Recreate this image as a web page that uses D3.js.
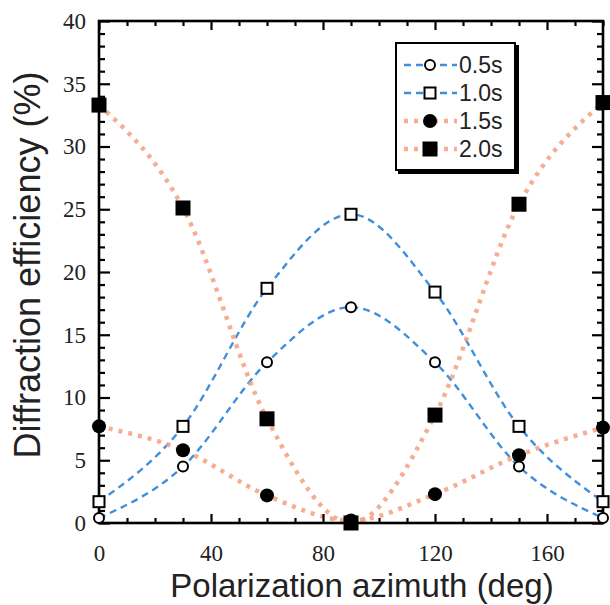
<!DOCTYPE html>
<html>
<head>
<meta charset="utf-8">
<script src="https://cdn.jsdelivr.net/npm/d3@7"></script>
<style>
  body { margin: 0; background: #fff; }
</style>
</head>
<body>
<svg id="mainsvg" width="610" height="605"></svg>
<script>
// values
const angles = [0, 30, 60, 90, 120, 150, 180];
const eff05 = [0.4, 4.5, 12.8, 17.2, 12.8, 4.5, 0.4];
const eff10 = [1.7, 7.7, 18.7, 24.6, 18.4, 7.7, 1.7];
const eff15 = [7.7, 5.8, 2.2, 0.2, 2.3, 5.4, 7.6];
const eff20 = [33.3, 25.1, 8.3, 0.0, 8.6, 25.4, 33.5];
const seriesNames = ["0.5s", "1.0s", "1.5s", "2.0s"];
const xTickLabels = [0, 40, 80, 120, 160];
const yTickLabels = [0, 5, 10, 15, 20, 25, 30, 35, 40];

const blue = "#3f8fdc";
const orange = "#f5a486";

const svg = d3.select("#mainsvg");
const x = d3.scaleLinear().domain([0, 180]).range([99, 603]);
const y = d3.scaleLinear().domain([0, 40]).range([523, 21]);

const series = [
  {name: seriesNames[0], vals: eff05, color: blue, marker: "circle", filled: false},
  {name: seriesNames[1], vals: eff10, color: blue, marker: "square", filled: false},
  {name: seriesNames[2], vals: eff15, color: orange, marker: "circle", filled: true},
  {name: seriesNames[3], vals: eff20, color: orange, marker: "square", filled: true}
];

svg.append("defs").append("clipPath").attr("id", "plotclip")
  .append("rect")
  .attr("x", x(0)).attr("y", y(40))
  .attr("width", x(180) - x(0)).attr("height", y(0) - y(40));

const line = d3.line()
  .x((d, i) => x(angles[i]))
  .y(d => y(d))
  .curve(d3.curveMonotoneX);

function styleLine(sel, s) {
  if (s.color === blue) {
    sel.style("stroke", blue).style("stroke-width", 2.4).style("stroke-dasharray", "7,5");
  } else {
    sel.style("stroke", orange).style("stroke-width", 4.5).style("stroke-dasharray", "4,6").style("opacity", 0.9);
  }
  sel.style("fill", "none");
}

function drawMarker(g, s, cx, cy) {
  if (s.marker === "circle") {
    const r = s.filled ? 7 : 5;
    g.append("circle").attr("cx", cx).attr("cy", cy).attr("r", r)
      .style("fill", s.filled ? "#000" : "#fff")
      .style("stroke", "#000").style("stroke-width", s.filled ? 0 : 2);
  } else {
    const w = s.filled ? 15 : 11;
    g.append("rect").attr("x", cx - w / 2).attr("y", cy - w / 2).attr("width", w).attr("height", w)
      .style("fill", s.filled ? "#000" : "#fff")
      .style("stroke", "#000").style("stroke-width", s.filled ? 0 : 2);
  }
}

// curves
const lines = svg.append("g").attr("clip-path", "url(#plotclip)");
series.forEach(s => {
  lines.append("path").datum(s.vals).attr("d", line).call(styleLine, s);
});

// axes with inward ticks
const minorX = d3.range(0, 181, 10);
const minorY = d3.range(0, 41, 1);

const axBottom = svg.append("g").attr("transform", `translate(0,${y(0)})`)
  .call(d3.axisBottom(x).tickValues(minorX).tickSize(-5).tickPadding(22)
    .tickFormat(d => xTickLabels.includes(d) ? d : ""));
axBottom.selectAll(".tick line").filter(d => d % 40 === 0).attr("y2", -9);

const axTop = svg.append("g").attr("transform", `translate(0,${y(40)})`)
  .call(d3.axisTop(x).tickValues(minorX).tickSize(-5).tickFormat(""));
axTop.selectAll(".tick line").filter(d => d % 40 === 0).attr("y2", 9);

const axLeft = svg.append("g").attr("transform", `translate(${x(0)},0)`)
  .call(d3.axisLeft(y).tickValues(minorY).tickSize(-6).tickPadding(13)
    .tickFormat(d => yTickLabels.includes(d) ? d : ""));
axLeft.selectAll(".tick line").filter(d => d % 5 === 0).attr("x2", 11);

const axRight = svg.append("g").attr("transform", `translate(${x(180)},0)`)
  .call(d3.axisRight(y).tickValues(minorY).tickSize(-6).tickFormat(""));
axRight.selectAll(".tick line").filter(d => d % 5 === 0).attr("x2", -11);

[axBottom, axTop, axLeft, axRight].forEach(a => {
  a.select(".domain").remove();
  a.selectAll(".tick line").style("stroke", "#000").style("stroke-width", 2.2);
  a.selectAll("text").style("font-family", "'Liberation Serif', serif")
    .style("font-size", "23px").style("fill", "#222");
});

svg.append("rect")
  .attr("x", x(0)).attr("y", y(40))
  .attr("width", x(180) - x(0)).attr("height", y(0) - y(40))
  .style("fill", "none").style("stroke", "#000").style("stroke-width", 2.6);

// markers
const marks = svg.append("g");
series.forEach(s => {
  s.vals.forEach((v, i) => drawMarker(marks, s, x(angles[i]), y(v)));
});

// legend
const lg = svg.append("g").attr("transform", "translate(396,43)");
lg.append("rect").attr("x", 2).attr("y", 2).attr("width", 121).attr("height", 129).style("fill", "#000");
lg.append("rect").attr("x", 0).attr("y", 0).attr("width", 119).attr("height", 127)
  .style("fill", "#fff").style("stroke", "#000").style("stroke-width", 2);
series.forEach((s, i) => {
  const ry = 22 + i * 28;
  lg.append("line").attr("x1", 8).attr("x2", 61).attr("y1", ry).attr("y2", ry).call(styleLine, s);
  drawMarker(lg, s, 34, ry);
  lg.append("text").attr("x", 63).attr("y", ry).attr("dy", "0.36em")
    .style("font-family", "'Liberation Sans', Arial, sans-serif").style("font-size", "23px")
    .style("fill", "#222").text(s.name);
});

// axis titles
svg.append("text")
  .attr("x", 362).attr("y", 597)
  .attr("text-anchor", "middle")
  .style("font-family", "'Liberation Sans', Arial, sans-serif").style("font-size", "33px")
  .style("fill", "#222").text("Polarization azimuth (deg)");

svg.append("text")
  .attr("transform", "translate(40,265) rotate(-90)")
  .attr("text-anchor", "middle")
  .style("font-family", "'Liberation Sans', Arial, sans-serif").style("font-size", "36px")
  .style("fill", "#222").text("Diffraction efficiency (%)");
</script>
</body>
</html>
